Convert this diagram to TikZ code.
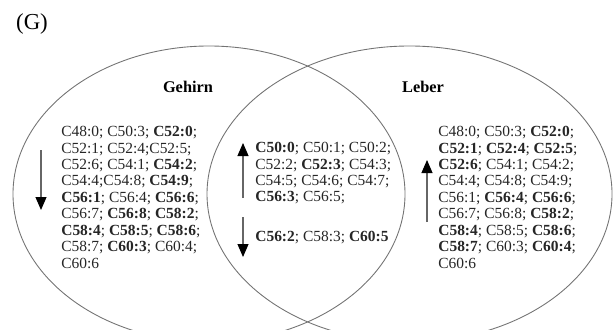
\documentclass[tikz,border=0pt]{standalone}
\usepackage{fontspec}
\setmainfont{Liberation Serif}
\usepackage{tikz}
\usetikzlibrary{positioning, shapes.geometric, arrows.meta}

\begin{document}
\begin{tikzpicture}

% Define styles
\tikzstyle{venn} = [ellipse, draw=black!55, line width=0.5pt, inner sep=0pt]
\tikzstyle{setname} = [font=\fontsize{9.3}{10}\selectfont\bfseries]
\tikzstyle{lipids} = [align=left, inner sep=0pt, anchor=north west, text=black!85, font=\fontsize{8.8}{9.35}\selectfont]
\tikzstyle{trend} = [draw=black!60, line width=0.6pt, -{Triangle[length=0.26cm, width=0.22cm, color=black, fill=black]}]

% Frame
\useasboundingbox (0,0) rectangle (12.28,6.58);
\clip (0,0) rectangle (12.28,6.58);

% Panel letter
\node[font=\fontsize{13}{14}\selectfont] (panel) at (0.64,6.1) {(G)};

% Two overlapping sets
\node[venn, minimum width=7.84cm, minimum height=5.92cm] (gehirnset) at (4.18,2.70) {};
\node[venn, minimum width=8.1cm, minimum height=5.92cm] (leberset) at (8.19,2.70) {};

\node[setname] (gehirn) at (3.76,4.84) {Gehirn};
\node[setname] (leber) at (8.46,4.84) {Leber};

% Left part - Gehirn only
\node[lipids] (gehirnlist) at (1.22,4.06) {C48:0; C50:3; \textbf{C52:0};\\
C52:1; C52:4;C52:5;\\
C52:6; C54:1; \textbf{C54:2};\\
C54:4;C54:8; \textbf{C54:9};\\
\textbf{C56:1}; C56:4; \textbf{C56:6};\\
C56:7; \textbf{C56:8}; \textbf{C58:2};\\
\textbf{C58:4}; \textbf{C58:5}; \textbf{C58:6};\\
C58:7; \textbf{C60:3}; C60:4;\\
C60:6};

% Middle part - both
\node[lipids] (bothup) at (5.10,3.74) {\textbf{C50:0}; C50:1; C50:2;\\
C52:2; \textbf{C52:3}; C54:3;\\
C54:5; C54:6; C54:7;\\
\textbf{C56:3}; C56:5;};
\node[lipids] (bothdown) at (5.10,1.96) {\textbf{C56:2}; C58:3; \textbf{C60:5}};

% Right part - Leber only
\node[lipids] (leberlist) at (8.76,4.06) {C48:0; C50:3; \textbf{C52:0};\\
\textbf{C52:1}; \textbf{C52:4}; \textbf{C52:5};\\
\textbf{C52:6}; C54:1; C54:2;\\
C54:4; C54:8; C54:9;\\
C56:1; \textbf{C56:4}; \textbf{C56:6};\\
C56:7; C56:8; \textbf{C58:2};\\
\textbf{C58:4}; C58:5; \textbf{C58:6};\\
\textbf{C58:7}; C60:3; \textbf{C60:4};\\
C60:6};

% Trend arrows
\coordinate (gtop) at (0.82,3.58);
\coordinate (gbot) at (0.82,2.38);
\coordinate (mupbot) at (4.86,2.62);
\coordinate (muptop) at (4.86,3.72);
\coordinate (mdowntop) at (4.86,2.24);
\coordinate (mdownbot) at (4.86,1.44);
\coordinate (lbot) at (8.54,2.14);
\coordinate (ltop) at (8.54,3.38);

\draw[trend] (gtop) -- (gbot);
\draw[trend] (mupbot) -- (muptop);
\draw[trend] (mdowntop) -- (mdownbot);
\draw[trend] (lbot) -- (ltop);

\end{tikzpicture}
\end{document}
